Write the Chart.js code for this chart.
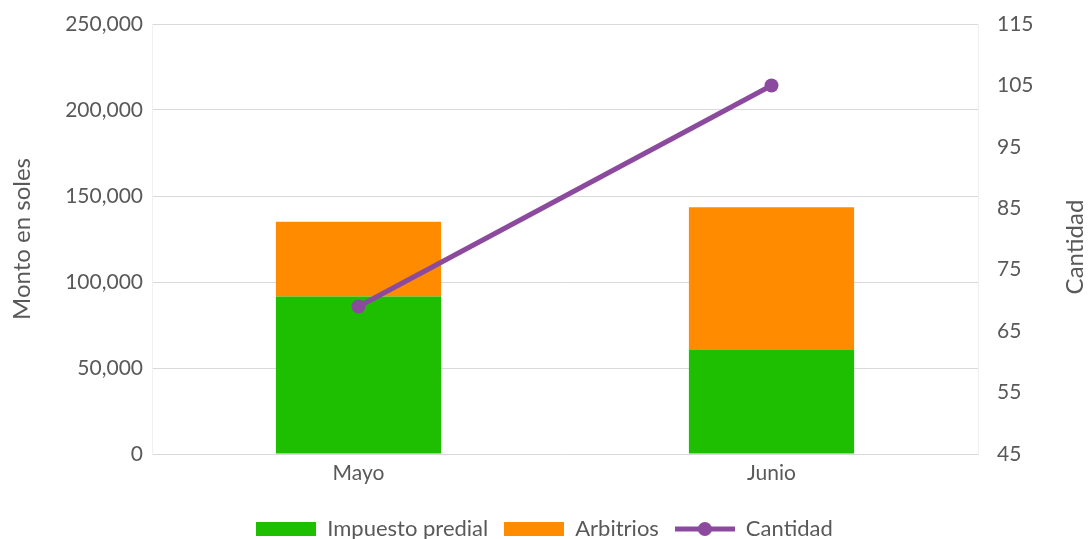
<!DOCTYPE html>
<html>
<head>
<meta charset="utf-8">
<script src="https://cdn.jsdelivr.net/npm/chart.js@4.4.1/dist/chart.umd.min.js"></script>
<style>
  html, body { margin: 0; padding: 0; background: #ffffff; }
  #wrap { width: 1089px; height: 539px; }
</style>
</head>
<body>
<div id="wrap"><canvas id="mainChart"></canvas></div>
<script>
// Data
const months = ["Mayo", "Junio"];
const impuestoPredial = [91500, 60500];
const arbitrios = [43500, 83000];
const cantidad = [69, 105];

const leftTitle = "Monto en soles";
const rightTitle = "Cantidad";

const colors = {
  predial: "#1ebe00",
  arbitrios: "#ff8c00",
  cantidad: "#8b4a9e",
  text: "#595959",
  grid: "#d9d9d9"
};

const fontFamily = "Lato, 'Open Sans', sans-serif";

// Legend swatches drawn as small canvases
function makeSwatch(kind, color) {
  const c = document.createElement("canvas");
  c.width = 60;
  c.height = 16;
  const g = c.getContext("2d");
  if (kind === "rect") {
    g.fillStyle = color;
    g.fillRect(0, 1, 60, 14);
  } else {
    g.strokeStyle = color;
    g.lineWidth = 5;
    g.beginPath();
    g.moveTo(0, 8);
    g.lineTo(60, 8);
    g.stroke();
    g.fillStyle = color;
    g.beginPath();
    g.arc(30, 8, 7, 0, Math.PI * 2);
    g.fill();
  }
  return c;
}

const swatches = [
  makeSwatch("rect", colors.predial),
  makeSwatch("rect", colors.arbitrios),
  makeSwatch("line", colors.cantidad)
];

// Right axis title reads bottom-to-top, so draw it ourselves
const rightTitlePlugin = {
  id: "rightTitle",
  afterDraw(chart) {
    const ctx = chart.ctx;
    const area = chart.chartArea;
    ctx.save();
    ctx.translate(1075, (area.top + area.bottom) / 2 + 8);
    ctx.rotate(-Math.PI / 2);
    ctx.font = "24px " + fontFamily;
    ctx.fillStyle = colors.text;
    ctx.textAlign = "center";
    ctx.textBaseline = "middle";
    ctx.fillText(rightTitle, 0, 0);
    ctx.restore();
  }
};

const ctx = document.getElementById("mainChart");

new Chart(ctx, {
  type: "bar",
  data: {
    labels: months,
    datasets: [
      {
        type: "line",
        label: "Cantidad",
        data: cantidad,
        yAxisID: "y1",
        borderColor: colors.cantidad,
        backgroundColor: colors.cantidad,
        borderWidth: 5,
        pointRadius: 7,
        pointHoverRadius: 7,
        pointBorderWidth: 0,
        tension: 0,
        order: 0
      },
      {
        label: "Impuesto predial",
        data: impuestoPredial,
        backgroundColor: colors.predial,
        yAxisID: "y",
        categoryPercentage: 1,
        barPercentage: 0.4,
        order: 1
      },
      {
        label: "Arbitrios",
        data: arbitrios,
        backgroundColor: colors.arbitrios,
        yAxisID: "y",
        categoryPercentage: 1,
        barPercentage: 0.4,
        order: 1
      }
    ]
  },
  options: {
    responsive: true,
    maintainAspectRatio: false,
    animation: false,
    layout: {
      padding: { top: 24, right: 0, bottom: -11, left: 0 }
    },
    scales: {
      x: {
        stacked: true,
        grid: { display: false, drawTicks: false },
        border: { display: false },
        ticks: {
          color: colors.text,
          font: { family: fontFamily, size: 21 },
          padding: 7
        },
        afterFit(scale) {
          scale.height = 48;
        }
      },
      y: {
        stacked: true,
        position: "left",
        min: 0,
        max: 250000,
        grid: { color: colors.grid, lineWidth: 1, drawTicks: false },
        border: { display: true, color: "#f0f0f0" },
        ticks: {
          stepSize: 50000,
          color: colors.text,
          font: { family: fontFamily, size: 21 },
          padding: 9,
          callback: function(value) {
            return value.toLocaleString("en-US");
          }
        },
        title: {
          display: true,
          text: leftTitle,
          color: colors.text,
          font: { family: fontFamily, size: 24 },
          padding: { top: 8, bottom: 0 }
        },
        afterFit(scale) {
          scale.width = 152;
        }
      },
      y1: {
        position: "right",
        min: 45,
        max: 115,
        // invisible tick marks give the label gap without growing the top padding
        grid: {
          display: true,
          drawOnChartArea: false,
          drawTicks: true,
          tickLength: 19,
          tickColor: "rgba(0,0,0,0)"
        },
        border: { display: true, color: "#f0f0f0" },
        ticks: {
          stepSize: 10,
          color: colors.text,
          font: { family: fontFamily, size: 21 },
          padding: 0
        },
        afterFit(scale) {
          scale.width = 111;
        }
      }
    },
    plugins: {
      legend: {
        display: true,
        position: "bottom",
        labels: {
          usePointStyle: true,
          pointStyleWidth: 60,
          boxHeight: 16,
          padding: 16,
          color: colors.text,
          font: { family: fontFamily, size: 22 },
          generateLabels: function(chart) {
            const items = Chart.defaults.plugins.legend.labels.generateLabels(chart);
            const order = ["Impuesto predial", "Arbitrios", "Cantidad"];
            items.sort((a, b) => order.indexOf(a.text) - order.indexOf(b.text));
            items.forEach((item, i) => {
              item.pointStyle = swatches[i];
            });
            return items;
          }
        }
      },
      tooltip: { enabled: false }
    }
  },
  plugins: [rightTitlePlugin]
});
</script>
</body>
</html>
